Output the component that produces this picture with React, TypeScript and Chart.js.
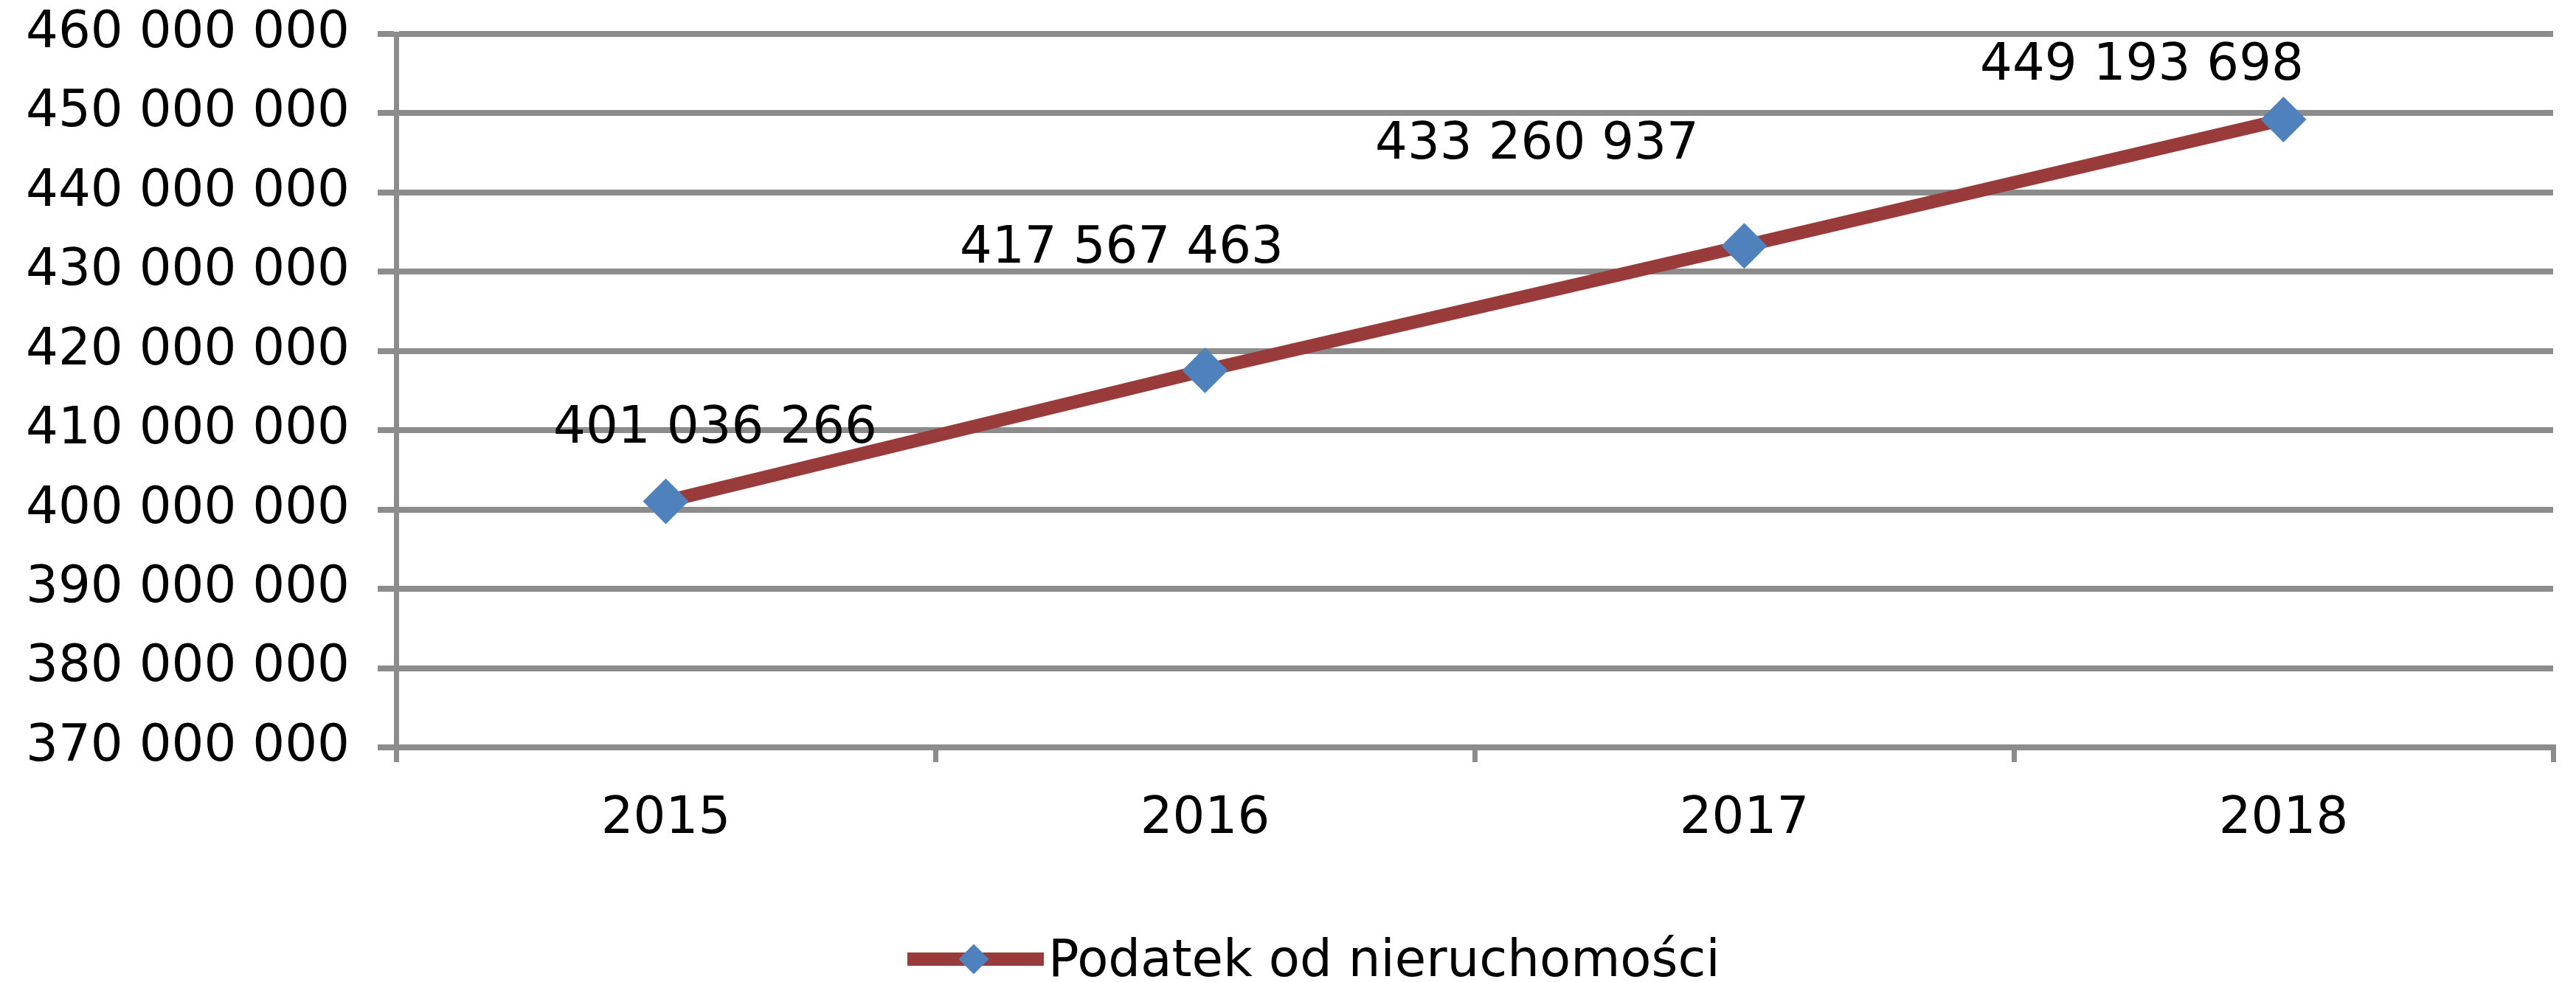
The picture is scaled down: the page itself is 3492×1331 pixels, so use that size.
import React, { useEffect, useRef } from "react";
import { Chart, registerables } from "chart.js";

Chart.register(...registerables);

// ---- data ----
const categories = ["2015", "2016", "2017", "2018"];
const seriesName = "Podatek od nieruchomości";
const values = [401036266, 417567463, 433260937, 449193698];
const yMin = 370000000;
const yMax = 460000000;
const yStep = 10000000;

// ---- style ----
const LINE_COLOR = "#9A3B3B";
const MARKER_COLOR = "#4F81BD";
const GRID_COLOR = "#8C8C8C";
const FONT_FAMILY = "'DejaVu Sans', Verdana, sans-serif";
const FONT_SIZE = 69;
// data label offsets relative to the marker (manual placement as in the original)
const labelOffsets: [number, number][] = [
  [67, -97],
  [-113, -164],
  [-281, -136],
  [-192, -72],
];

function fmt(v: number): string {
  return Math.round(v)
    .toString()
    .replace(/\B(?=(\d{3})+(?!\d))/g, " ");
}

const dataLabelPlugin = {
  id: "dataLabels",
  afterDatasetsDraw(chart: any) {
    const ctx = chart.ctx;
    const meta = chart.getDatasetMeta(0);
    ctx.save();
    ctx.font = `${FONT_SIZE}px ${FONT_FAMILY}`;
    ctx.fillStyle = "#000000";
    ctx.textAlign = "center";
    ctx.textBaseline = "middle";
    meta.data.forEach((el: any, i: number) => {
      const [dx, dy] = labelOffsets[i];
      ctx.fillText(fmt(values[i]), el.x + dx, el.y + dy);
    });
    ctx.restore();
  },
};

const legendPlugin = {
  id: "customLegend",
  afterDraw(chart: any) {
    const ctx = chart.ctx;
    const area = chart.chartArea;
    const cy = area.bottom + 287;
    const x0 = 1230;
    const lineLen = 185;
    ctx.save();
    ctx.strokeStyle = LINE_COLOR;
    ctx.lineWidth = 18;
    ctx.lineCap = "butt";
    ctx.beginPath();
    ctx.moveTo(x0, cy);
    ctx.lineTo(x0 + lineLen, cy);
    ctx.stroke();
    const mx = x0 + 90;
    const r = 20.5;
    ctx.fillStyle = MARKER_COLOR;
    ctx.beginPath();
    ctx.moveTo(mx - r, cy);
    ctx.lineTo(mx, cy - r);
    ctx.lineTo(mx + r, cy);
    ctx.lineTo(mx, cy + r);
    ctx.closePath();
    ctx.fill();
    ctx.font = `${FONT_SIZE}px ${FONT_FAMILY}`;
    ctx.fillStyle = "#000000";
    ctx.textAlign = "left";
    ctx.textBaseline = "alphabetic";
    ctx.fillText(seriesName, x0 + lineLen + 6, cy + 23);
    ctx.restore();
  },
};

export default function App() {
  const canvasRef = useRef<HTMLCanvasElement | null>(null);

  useEffect(() => {
    if (!canvasRef.current) return;
    const chart = new Chart(canvasRef.current, {
      type: "line",
      data: {
        labels: categories,
        datasets: [
          {
            label: seriesName,
            data: values,
            borderColor: LINE_COLOR,
            backgroundColor: MARKER_COLOR,
            borderWidth: 18,
            tension: 0,
            pointStyle: "rectRot",
            pointRadius: 31,
            pointHoverRadius: 31,
            pointBackgroundColor: MARKER_COLOR,
            pointBorderColor: MARKER_COLOR,
            pointBorderWidth: 0,
            clip: false as any,
          },
        ],
      },
      options: {
        animation: false,
        responsive: true,
        maintainAspectRatio: false,
        devicePixelRatio: 1,
        layout: { padding: { top: 46, right: 15, bottom: 0, left: 0 } },
        plugins: {
          legend: { display: false },
          tooltip: { enabled: false },
        },
        scales: {
          x: {
            type: "category",
            offset: true,
            grid: {
              offset: true,
              drawOnChartArea: false,
              drawTicks: true,
              tickLength: 20,
              color: GRID_COLOR,
              lineWidth: 7,
            },
            border: { display: true, color: GRID_COLOR, width: 8 },
            ticks: {
              color: "#000000",
              font: { family: FONT_FAMILY, size: FONT_SIZE, lineHeight: 1 },
              padding: 44,
              maxRotation: 0,
              autoSkip: false,
            },
            afterFit: (s: any) => {
              s.height = 318;
              s.paddingLeft = 0;
              s.paddingRight = 0;
            },
          },
          y: {
            type: "linear",
            min: yMin,
            max: yMax,
            ticks: {
              stepSize: yStep,
              color: "#000000",
              font: { family: FONT_FAMILY, size: FONT_SIZE, lineHeight: 1 },
              padding: 38,
              callback: (v: any) => fmt(Number(v)),
            },
            grid: {
              color: GRID_COLOR,
              lineWidth: 8,
              drawTicks: true,
              tickLength: 25,
            },
            border: { display: true, color: GRID_COLOR, width: 7 },
            afterFit: (s: any) => {
              s.width = 537;
              s.paddingTop = 0;
              s.paddingBottom = 0;
            },
          },
        },
      },
      plugins: [dataLabelPlugin, legendPlugin],
    });
    return () => chart.destroy();
  }, []);

  return (
    <div
      style={{
        position: "fixed",
        left: 0,
        top: 0,
        width: "3492px",
        height: "1331px",
        background: "#ffffff",
      }}
    >
      <canvas ref={canvasRef} />
    </div>
  );
}
